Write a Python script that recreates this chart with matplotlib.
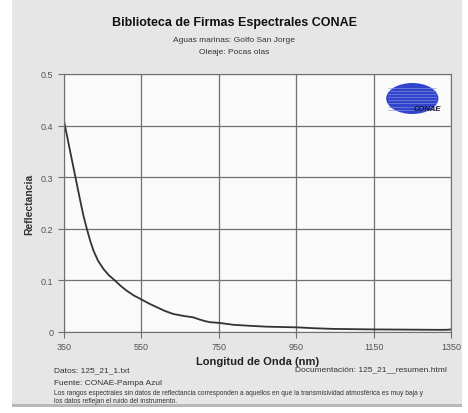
import matplotlib.pyplot as plt
from matplotlib.patches import Rectangle, Ellipse

plt.rcParams["font.family"] = ["Liberation Sans", "DejaVu Sans"]

# espectro
longitud = [350, 370, 391, 400, 409, 418, 426, 438, 452, 466, 482, 497, 512, 530, 551,
            570, 590, 610, 632, 660, 684, 701, 715, 727, 753, 787, 830, 874, 951,
            1000, 1046, 1100, 1149, 1200, 1261, 1320, 1340, 1350]
reflectancia = [0.409, 0.335, 0.258, 0.226, 0.200, 0.176, 0.158, 0.138, 0.122, 0.110,
                0.0995, 0.089, 0.080, 0.071, 0.0627, 0.055, 0.048, 0.041, 0.035, 0.031,
                0.0284, 0.024, 0.021, 0.019, 0.0175, 0.0140, 0.0120, 0.0103, 0.009,
                0.0072, 0.0060, 0.0055, 0.0050, 0.0048, 0.0045, 0.0042, 0.0043, 0.0050]
xticks = [350, 550, 750, 950, 1150, 1350]
yticks = [0, 0.1, 0.2, 0.3, 0.4, 0.5]
ytick_labels = ["0", "0.1", "0.2", "0.3", "0.4", "0.5"]

W, H = 468, 414
fig = plt.figure(figsize=(W / 100, H / 100), dpi=100, facecolor="white")
fig.patches.append(Rectangle((12 / W, 9 / H), 450 / W, 1 - 9 / H, transform=fig.transFigure,
                             facecolor="#e6e6e6", edgecolor="none", zorder=-10))
fig.patches.append(Rectangle((12 / W, 6 / H), 450 / W, 3 / H, transform=fig.transFigure,
                             facecolor="#b8b8b8", edgecolor="none", zorder=-10))

ax = fig.add_axes([64 / W, 1 - 333 / H, 387 / W, 258 / H])
ax.set_facecolor("#fafafa")
ax.plot(longitud, reflectancia, color="#333333", lw=1.3)
ax.set_xlim(350, 1350)
ax.set_ylim(0, 0.5)
ax.set_xticks(xticks)
ax.set_xticklabels([str(t) for t in xticks])
ax.set_yticks(yticks)
ax.set_yticklabels(ytick_labels)
ax.grid(True, color="#707070", lw=0.9)
for s in ax.spines.values():
    s.set_color("#707070")
ax.tick_params(colors="#707070", labelcolor="#555555", labelsize=6.5, length=4, width=0.8)
ax.set_ylabel("Reflectancia", fontsize=7.5, fontweight="bold", color="#333333", labelpad=5)

# logo CONAE
ax.add_patch(Ellipse((0.9, 0.905), 0.135, 0.12, transform=ax.transAxes,
                     facecolor="#3344cc", edgecolor="none", zorder=5))
for k in range(8):
    yy = 0.862 + k * 0.012
    ax.plot([0.838, 0.962], [yy, yy], transform=ax.transAxes, color="#8899dd",
            lw=0.4, zorder=6)
ax.text(0.975, 0.865, "CONAE", transform=ax.transAxes, fontsize=5.5, fontstyle="italic",
        fontweight="bold", color="#111133", ha="right", va="center", zorder=7)

fig.text(0.5, 1 - 23 / H, "Biblioteca de Firmas Espectrales CONAE", ha="center", va="center",
         fontsize=9, fontweight="bold", color="#111111")
fig.text(0.5, 1 - 40 / H, "Aguas marinas: Golfo San Jorge", ha="center", va="center",
         fontsize=6, color="#333333")
fig.text(0.5, 1 - 52 / H, "Oleaje: Pocas olas", ha="center", va="center",
         fontsize=6, color="#333333")
fig.text(258 / W, 1 - 362 / H, "Longitud de Onda (nm)", ha="center", va="center",
         fontsize=8, fontweight="bold", color="#222222")
fig.text(54 / W, 1 - 371 / H, "Datos: 125_21_1.txt", ha="left", va="center",
         fontsize=6, color="#333333")
fig.text(447 / W, 1 - 370 / H, "Documentación: 125_21__resumen.html", ha="right", va="center",
         fontsize=6, color="#333333")
fig.text(54 / W, 1 - 384 / H, "Fuente: CONAE-Pampa Azul", ha="left", va="center",
         fontsize=6, color="#333333")
fig.text(54 / W, 1 - 394 / H,
         "Los rangos espectrales sin datos de reflectancia corresponden a aquellos en que la "
         "transmisividad atmosférica es muy baja y", ha="left", va="center",
         fontsize=4.8, color="#333333")
fig.text(54 / W, 1 - 402 / H, "los datos reflejan el ruido del instrumento.", ha="left",
         va="center", fontsize=4.8, color="#333333")

fig.savefig("out.png", dpi=100, facecolor=fig.get_facecolor())
